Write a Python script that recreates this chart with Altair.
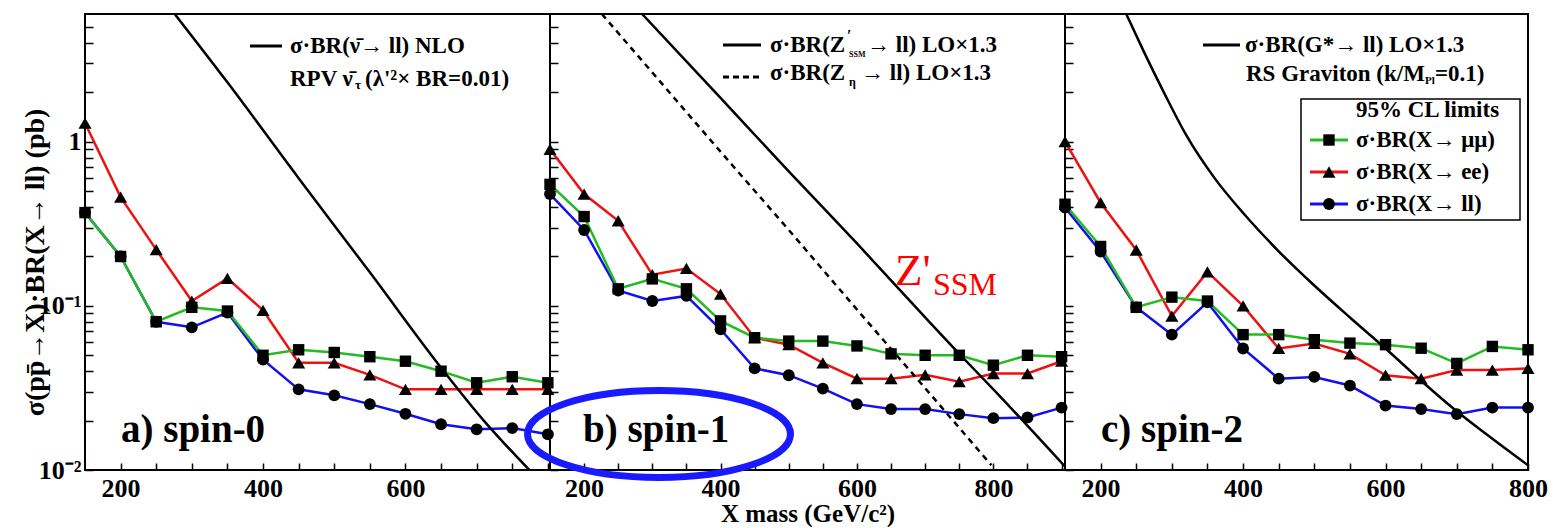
import altair as alt
import pandas as pd

FONT = "Liberation Serif"

# ---------------- data ----------------
mass_a = [150, 200, 250, 300, 350, 400, 450, 500, 550, 600, 650, 700, 750, 800]
mumu_a = [0.37, 0.20, 0.080, 0.098, 0.093, 0.050, 0.054, 0.052, 0.049, 0.046, 0.040, 0.034, 0.037, 0.034]
ee_a = [1.30, 0.46, 0.22, 0.107, 0.147, 0.094, 0.045, 0.045, 0.038, 0.031, 0.031, 0.031, 0.031, 0.031]
ll_a = [0.37, 0.20, 0.080, 0.074, 0.091, 0.047, 0.031, 0.0285, 0.0252, 0.022, 0.019, 0.0177, 0.018, 0.0165]

mass_b = [150, 200, 250, 300, 350, 400, 450, 500, 550, 600, 650, 700, 750, 800, 850, 900]
mumu_b = [0.55, 0.35, 0.127, 0.146, 0.127, 0.081, 0.064, 0.061, 0.061, 0.057, 0.051, 0.050, 0.050, 0.0435, 0.050, 0.049]
ee_b = [0.90, 0.48, 0.33, 0.155, 0.169, 0.118, 0.064, 0.058, 0.045, 0.036, 0.036, 0.038, 0.0345, 0.0387, 0.0387, 0.046]
ll_b = [0.48, 0.29, 0.124, 0.107, 0.115, 0.072, 0.0416, 0.0378, 0.0313, 0.0252, 0.0235, 0.0235, 0.0219, 0.0207, 0.0209, 0.024]

mass_c = [150, 200, 250, 300, 350, 400, 450, 500, 550, 600, 650, 700, 750, 800]
mumu_c = [0.416, 0.23, 0.098, 0.113, 0.107, 0.0668, 0.0668, 0.0622, 0.0593, 0.058, 0.0552, 0.0446, 0.0566, 0.054]
ee_c = [1.0, 0.425, 0.219, 0.0867, 0.161, 0.100, 0.055, 0.059, 0.051, 0.0378, 0.036, 0.0406, 0.0406, 0.0416]
ll_c = [0.397, 0.214, 0.098, 0.0668, 0.105, 0.055, 0.036, 0.0369, 0.0327, 0.0247, 0.0235, 0.0219, 0.024, 0.024]

# theory curves
snu_mass = [276, 350, 450, 550, 650, 710, 774]
snu_xsec = [6.0, 2.3, 0.60, 0.16, 0.042, 0.020, 0.010]

zssm_mass = [285, 400, 500, 600, 700, 750, 800, 905]
zssm_xsec = [6.0, 1.85, 0.66, 0.24, 0.085, 0.051, 0.031, 0.0105]

zeta_mass = [226, 300, 400, 500, 600, 700, 797]
zeta_xsec = [6.0, 2.64, 0.87, 0.29, 0.095, 0.0315, 0.0107]

grav_mass = [236, 260, 290, 320, 360, 402, 450, 500, 550, 600, 650, 700, 750, 800]
grav_xsec = [6.0, 3.59, 1.95, 1.10, 0.60, 0.36, 0.215, 0.133, 0.085, 0.055, 0.035, 0.0228, 0.0155, 0.0107]

series_colors = {"mumu": "#22bb22", "ee": "#ee1111", "ll": "#1111ee"}
series_shapes = {"mumu": "square", "ee": "triangle-up", "ll": "circle"}
series_sizes = {"mumu": 130, "ee": 170, "ll": 140}

y_ticks = [0.01, 0.02, 0.03, 0.04, 0.05, 0.06, 0.07, 0.08, 0.09,
           0.1, 0.2, 0.3, 0.4, 0.5, 0.6, 0.7, 0.8, 0.9, 1, 2, 3, 4, 5]
x_ticks = [200, 250, 300, 350, 400, 450, 500, 550, 600, 650, 700, 750, 800, 850, 900]
x_labels_a = [200, 400, 600]
x_labels_bc = [200, 400, 600, 800]

one = pd.DataFrame({"k": [0]})
LEG = 23


def panel_df(mass, mumu, ee, ll):
    rows = []
    for name, vals in (("mumu", mumu), ("ee", ee), ("ll", ll)):
        for m, v in zip(mass, vals):
            rows.append({"mass": m, "xsec": v, "series": name})
    return pd.DataFrame(rows)


def txt(s, x, y, size=LEG, color="black", weight="bold", baseline="middle", align="left"):
    return alt.Chart(one).mark_text(
        text=s, font=FONT, fontSize=size, fontWeight=weight, color=color,
        baseline=baseline, align=align, clip=False
    ).encode(x=alt.value(x), y=alt.value(y))


def hrule(x1, x2, y, color="black", width=3, dash=None):
    kw = dict(color=color, strokeWidth=width)
    if dash:
        kw["strokeDash"] = dash
    return alt.Chart(one).mark_rule(**kw).encode(x=alt.value(x1), x2=alt.value(x2), y=alt.value(y))


def panel(df, theories, xdomain, width, yaxis, xaxis, annotations):
    x = alt.X("mass:Q", scale=alt.Scale(domain=xdomain, nice=False, zero=False), axis=xaxis)
    y = alt.Y("xsec:Q", scale=alt.Scale(type="log", domain=[0.01, 6], nice=False), axis=yaxis)
    layers = []
    for s in ["ll", "ee", "mumu"]:
        layers.append(alt.Chart(df[df.series == s]).mark_line(
            color=series_colors[s], strokeWidth=2.5).encode(x=x, y=y))
    for s in ["ll", "ee", "mumu"]:
        layers.append(alt.Chart(df[df.series == s]).mark_point(
            shape=series_shapes[s], filled=True, color="black", opacity=1,
            size=series_sizes[s]).encode(x=x, y=y))
    for tm, tx, dash in theories:
        kw = dict(color="black", strokeWidth=2.5, clip=True, interpolate="monotone")
        if dash:
            kw["strokeDash"] = dash
        layers.append(alt.Chart(pd.DataFrame({"mass": tm, "xsec": tx})).mark_line(**kw).encode(x=x, y=y))
    layers += annotations
    return alt.layer(*layers).properties(width=width, height=456)


def x_axis(labelled, title=None):
    cond = " || ".join("datum.value == %d" % v for v in labelled)
    kw = dict(values=x_ticks, labelExpr="(%s) ? datum.label : ''" % cond,
              tickSize=7, offset=-7, labelPadding=5, labelFlush=False, labelOverlap=False,
              domain=False, grid=False)
    if title:
        kw.update(title=title, titlePadding=0)
    else:
        kw.update(title=None)
    return alt.Axis(**kw)


y_axis_a = alt.Axis(
    values=y_ticks,
    labelExpr="datum.value == 1 ? '1' : (abs(datum.value - 0.1) < 1e-9 ? '10⁻¹' : (abs(datum.value - 0.01) < 1e-9 ? '10⁻²' : ''))",
    tickSize=8, offset=-8, labelPadding=4, labelOverlap=False, domain=False, grid=False,
    title="σ(pp̄→X)·BR(X→ ll) (pb)", titleAngle=270, titleX=-58, titleY=248,
    titleBaseline="middle", titleAlign="center", titleFontSize=28,
)
y_axis_bc = alt.Axis(values=y_ticks, labels=False, tickSize=8, offset=-8,
                     domain=False, grid=False, title=None)

# ---------------- panel a ----------------
ann_a = [
    hrule(165, 197, 32),
    txt("σ·BR(ν̄→ ll) NLO", 205, 32),
    txt("RPV ν̄", 205, 65),
    txt("τ", 270, 71, size=13),
    txt("(λ'²× BR=0.01)", 280, 65),
    txt("a) spin-0", 36, 428, size=39, baseline="alphabetic"),
]
pa = panel(panel_df(mass_a, mumu_a, ee_a, ll_a), [(snu_mass, snu_xsec, None)],
           [150, 803], 465, y_axis_a, x_axis(x_labels_a), ann_a)

# ---------------- panel b ----------------
ellipse_path = "M -1 0 A 1 0.331 0 1 1 1 0 A 1 0.331 0 1 1 -1 0 Z"
ann_b = [
    hrule(173, 211, 31),
    txt("σ·BR(Z", 220, 31),
    txt("′", 297, 22, size=16),
    txt("SSM", 299, 41, size=8),
    txt("→ ll) LO×1.3", 317, 31),
    hrule(173, 211, 63, dash=[6, 4]),
    txt("σ·BR(Z", 220, 59),
    txt("η", 299, 68, size=12),
    txt("→ ll) LO×1.3", 311, 59),
    txt("Z'", 345, 271, size=45, color="#ff0000", weight="normal", baseline="alphabetic"),
    txt("SSM", 383, 281, size=32, color="#ff0000", weight="normal", baseline="alphabetic"),
    txt("b) spin-1", 33, 428, size=39, baseline="alphabetic"),
    alt.Chart(one).mark_point(shape=ellipse_path, filled=False, stroke="#1a1aff",
                              strokeWidth=7, size=69169, opacity=1, clip=False)
    .encode(x=alt.value(109), y=alt.value(420)),
]
pb = panel(panel_df(mass_b, mumu_b, ee_b, ll_b),
           [(zssm_mass, zssm_xsec, None), (zeta_mass, zeta_xsec, [6, 5])],
           [150, 905], 515, y_axis_bc, x_axis(x_labels_bc, "X mass (GeV/c²)"), ann_b)

# ---------------- panel c ----------------
legend_rows = [("mumu", "σ·BR(X→ μμ)", 126), ("ee", "σ·BR(X→ ee)", 158), ("ll", "σ·BR(X→ ll)", 190)]
ann_c = [
    hrule(138, 175, 31),
    txt("σ·BR(G*→ ll) LO×1.3", 180, 31),
    txt("RS Graviton (k/M", 181, 60),
    txt("Pl", 360, 67, size=11),
    txt("=0.1)", 370, 60),
    alt.Chart(one).mark_rect(fill="white", stroke="black", strokeWidth=1.5)
    .encode(x=alt.value(236), x2=alt.value(455), y=alt.value(85), y2=alt.value(206)),
    txt("95% CL limits", 291, 96),
    txt("c) spin-2", 36, 428, size=39, baseline="alphabetic"),
]
for s, label, yy in legend_rows:
    ann_c.append(hrule(245, 283, yy, color=series_colors[s], width=3))
    ann_c.append(alt.Chart(one).mark_point(shape=series_shapes[s], filled=True, color="black",
                                           opacity=1, size=series_sizes[s])
                 .encode(x=alt.value(264), y=alt.value(yy)))
    ann_c.append(txt(label, 291, yy))

pc = panel(panel_df(mass_c, mumu_c, ee_c, ll_c), [(grav_mass, grav_xsec, None)],
           [150, 800], 463, y_axis_bc, x_axis(x_labels_bc), ann_c)

chart = alt.hconcat(pa, pb, pc, spacing=0, bounds="flush").properties(
    padding={"left": 19, "top": 12, "right": 0, "bottom": 0},
    background="white",
).configure_view(stroke="black", strokeWidth=2).configure_axis(
    labelFont=FONT, labelFontSize=26, labelFontWeight="bold", labelColor="black",
    tickColor="black", tickWidth=1.5,
    titleFont=FONT, titleFontSize=25, titleFontWeight="bold", titleColor="black",
)

chart.save("out.html", embed_options={"renderer": "svg", "actions": False})
